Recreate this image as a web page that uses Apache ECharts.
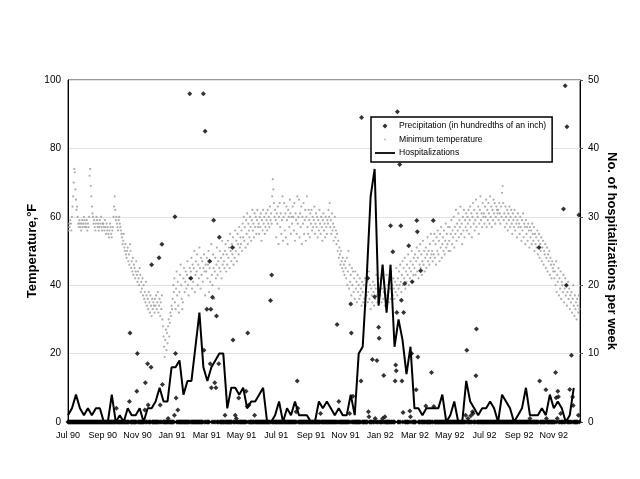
<!DOCTYPE html>
<html lang="en">
<head>
    <meta charset="UTF-8">
    <title>Temperature, precipitation and hospitalizations</title>
    <script src="https://cdn.jsdelivr.net/npm/echarts@6/dist/echarts.min.js"></script>
    <style>
        html, body { margin: 0; padding: 0; background: #fff; }
        #chart { width: 640px; height: 479px; }
    </style>
</head>
<body>
<div id="chart"></div>
<script>
    // day 0 = 1 Jul 1990, ticks every 61 days (two months)
    var monthLabels = ['Jul 90', 'Sep 90', 'Nov 90', 'Jan 91', 'Mar 91', 'May 91', 'Jul 91', 'Sep 91',
        'Nov 91', 'Jan 92', 'Mar 92', 'May 92', 'Jul 92', 'Sep 92', 'Nov 92'];

    // daily minimum temperature, one line per month (Jul 90 .. mid Dec 92)
    var minTemp = [
        57,56,58,57,59,58,56,60,63,66,70,74,73,68,65,62,63,60,58,57,59,58,57,56,58,59,57,58,60,59,57,
        58,57,59,56,58,57,60,72,74,69,66,63,61,60,58,59,57,56,58,60,59,57,58,56,57,59,58,60,57,56,58,
        58,57,56,59,57,55,58,56,57,55,54,56,58,57,55,54,56,57,60,63,66,62,59,60,58,57,56,59,60,58,
        57,56,55,54,52,53,55,51,50,52,49,48,50,51,47,49,46,52,50,45,47,44,48,43,46,45,42,44,47,43,41,
        44,42,40,45,43,38,41,39,42,37,40,36,38,35,41,37,34,36,33,38,35,32,37,34,31,36,33,35,34,32,
        36,34,37,33,35,38,32,34,36,31,35,33,37,30,28,25,22,19,24,27,21,26,23,28,30,25,29,32,31,34,33,
        36,40,38,42,35,33,39,44,37,41,34,32,38,43,46,40,36,33,35,42,45,38,41,44,39,43,47,40,37,42,45,
        42,44,48,39,46,41,45,50,38,43,47,44,49,40,46,42,51,45,39,48,43,47,41,45,49,44,37,46,
        44,48,42,46,50,38,45,41,47,52,43,40,49,45,36,44,48,42,46,51,43,47,39,45,50,44,48,42,53,46,49,
        47,45,50,52,44,49,46,53,48,51,45,55,50,47,52,49,54,46,51,48,56,50,53,47,55,52,49,57,51,54,
        52,56,50,58,54,60,53,57,51,59,55,61,52,58,56,54,60,57,53,59,62,56,58,54,61,57,60,55,59,62,57,
        58,55,60,57,61,53,59,56,62,58,60,55,57,61,59,56,62,58,60,57,63,59,61,58,66,71,68,64,60,62,
        59,54,61,58,63,52,60,64,57,61,55,59,66,53,60,64,56,61,54,63,59,52,62,60,57,65,61,55,60,58,63,
        60,56,64,53,61,59,55,66,58,60,65,54,61,57,63,52,60,58,64,55,59,62,53,60,66,57,55,62,59,54,61,
        58,62,56,60,57,59,63,55,58,61,57,60,54,59,56,62,58,55,60,57,53,59,61,56,58,54,60,57,55,59,
        58,62,60,64,57,59,55,61,56,58,53,57,60,54,56,52,55,50,53,48,51,49,46,50,47,45,48,44,46,43,47,
        45,42,48,40,44,50,39,46,41,43,37,45,40,44,38,42,36,44,39,41,35,43,38,40,36,42,37,39,34,41,
        38,35,40,36,42,34,39,37,41,35,38,44,36,40,33,39,37,35,41,38,34,40,36,39,43,37,35,38,42,36,39,
        37,40,35,39,42,36,38,41,34,39,37,43,36,40,38,35,41,39,36,44,38,40,37,42,39,36,41,38,45,40,37,
        42,39,44,40,46,41,38,43,47,40,45,42,48,39,44,41,46,43,49,40,45,42,47,44,50,41,46,43,48,
        45,49,43,47,51,44,48,42,50,46,52,45,49,43,47,53,46,50,44,48,51,45,49,54,47,50,46,52,48,55,49,
        50,47,53,49,55,48,52,46,54,50,56,49,53,47,55,51,57,48,52,54,50,56,49,53,58,51,55,52,57,50,
        53,57,50,55,59,52,56,54,60,51,57,55,62,53,58,56,61,54,59,57,63,55,58,52,60,56,62,54,59,57,61,
        56,60,58,62,55,59,63,57,61,54,60,64,58,62,56,59,65,57,61,60,63,55,58,62,66,59,61,57,64,60,
        61,58,63,60,65,57,62,59,64,61,58,66,60,63,57,62,59,65,61,64,58,60,63,62,61,62,59,64,61,58,63,
        60,67,69,64,59,61,57,63,60,58,62,56,61,59,63,57,60,62,58,55,61,59,57,62,56,60,58,54,59,61,57,
        58,55,60,57,53,59,56,61,54,58,57,52,59,55,57,53,58,56,51,57,54,56,52,58,55,53,57,50,55,52,
        54,51,56,49,53,55,48,52,50,54,47,51,53,46,50,49,52,45,48,51,44,49,47,50,43,48,46,42,47,45,44,
        46,42,44,40,47,38,43,41,45,37,42,39,44,36,41,40,38,43,35,39,42,37,40,34,38,41,36,39,33,37,
        35,38,32,36,40,34,31,37,33,35,30,36,34,32,37,33
    ];

    // days with rain: [day, hundredths of an inch]; every other day is 0
    var precipDays = [
        [85,4],[108,6],[109,26],[121,9],[122,20],[135,3.5],[136,11.5],[140,17],[141,5],[146,16],[147,46],
        [160,48],[162,5],[165,52],[166,11],[176,1],[187,2],[188,60],[189,20],[190,7],[193,3.5],
        [214,96],[216,42],[238,96],[239,21],[241,85],[244,33],[249,47],[250,17],[251,33],[252,10],
        [254,36.5],[256,59],[258,11.5],[260,10],[261,31],[265,17],[266,54],[276,2],[289,51],[290,24],
        [294,2],[296,1],[300,7],[313,9],[315,4.5],[316,26],[318,5],[328,2],[356,35.5],[358,43],
        [401,3],[403,12],[404,4],[444,2.5],[473,28.5],[476,6],[495,2.5],[497,34.5],[498,26],[501,7.5],
        [515,12],[516,89],[527,42],[528,3],[529,1.5],[535,18.3],[539,36.6],[540,1],[543,18],[546,27.7],
        [547,24.5],[553,1],[555,13.6],[557,1.5],[567,57.4],[571,49.8],[575,12],[576,16.7],[577,15],
        [578,32],[579,90.7],[583,75.3],[585,57.4],[586,35.6],[587,12],[589,2.8],[590,32],[592,40.5],
        [599,51.5],[601,3.2],[602,1.5],[604,20],[605,41],[612,9.4],[613,58.9],[614,55.6],[615,19],
        [620,44.2],[629,4.7],[639,14.5],[642,58.9],[643,4.5],[699,2],[701,21],[703,1],[708,1.8],
        [711,3],[712,2.5],[717,13.5],[718,27.2],[812,1],[828,51],[829,12],[840,9.4],[841,1],
        [857,14.5],[858,7.1],[860,1],[861,9],[862,7.4],[866,2.5],[871,62.3],[874,98.3],[876,40],
        [877,86.3],[882,9.5],[885,19.5],[887,7.3],[888,4.8],[897,2],[898,60.5]
    ];

    // weekly hospitalizations, week 0 starting 1 Jul 1990
    var hospitalizations = [
        1,2,4,2,1,2,1,2,2,0,0,4,0,1,0,2,1,1,2,0,2,2,3,5,3,3,8,8,9,4,
        6,6,11,16,8,6,8,9,10,10,2,5,5,4,5,2,3,3,4,5,0,0,1,3,0,2,1,3,1,1,
        1,0,0,3,2,3,2,1,2,1,1,4,1,10,11,21,33,37,17,23,16,23,11,15,12,7,11,2,2,1,
        2,2,2,2,4,0,1,3,0,0,6,3,2,1,2,2,3,2,0,4,3,2,0,1,2,5,1,1,1,2,
        1,4,2,3,2,0,1,5
    ];

    var DAYS = minTemp.length;
    var FONT = 'Liberation Sans, Arial, sans-serif';

    var tempData = minTemp.map(function (v, d) { return [d, v]; });
    var rain = {};
    precipDays.forEach(function (p) { rain[p[0]] = p[1]; });
    var precipData = [];
    for (var d = 0; d < DAYS; d++) {
        precipData.push([d, rain[d] || 0]);
    }
    var hospData = hospitalizations.map(function (v, w) { return [w * 7, v]; });

    var chart = echarts.init(document.getElementById('chart'));
    var option = {
        animation: false,
        backgroundColor: '#fff',
        textStyle: { fontFamily: FONT },
        grid: {
            left: 68, right: 60, top: 80, bottom: 57,
            show: true, borderColor: '#333', borderWidth: 1
        },
        legend: {
            orient: 'vertical',
            left: 371,
            top: 117,
            padding: [4, 6, 4, 4],
            itemWidth: 20,
            itemHeight: 10,
            itemGap: 3.5,
            borderColor: '#000',
            borderWidth: 1.5,
            backgroundColor: '#fff',
            textStyle: { fontFamily: FONT, fontSize: 8.6, color: '#000', padding: [0, 0, 0, -1] },
            data: [
                { name: 'Precipitation (in hundredths of an inch)', icon: 'path://M0,0M20,10M10,2.5L12.5,5L10,7.5L7.5,5Z' },
                { name: 'Minimum temperature', icon: 'path://M0,0M20,10M9.2,4.2H10.8V5.8H9.2Z' },
                { name: 'Hospitalizations', icon: 'path://M0,0M20,10M0,4.1H20V5.9H0Z' }
            ]
        },
        xAxis: {
            type: 'value',
            min: 0,
            max: DAYS,
            interval: 61,
            axisLine: { show: true, lineStyle: { color: '#000' } },
            axisTick: { show: false },
            splitLine: { show: false },
            axisLabel: {
                fontFamily: FONT, fontSize: 9, color: '#000', margin: 9,
                formatter: function (v) {
                    return v % 61 === 0 ? (monthLabels[v / 61] || '') : '';
                }
            }
        },
        yAxis: [{
            type: 'value',
            min: 0, max: 100, interval: 20,
            name: 'Temperature,°F',
            nameLocation: 'middle',
            nameRotate: 90,
            nameGap: 29,
            nameMoveOverlap: false,
            nameTextStyle: { fontFamily: FONT, fontSize: 13, fontWeight: 'bold', color: '#000' },
            axisLine: { show: true, lineStyle: { color: '#000' } },
            axisTick: { show: false },
            axisLabel: { fontFamily: FONT, fontSize: 10, color: '#000', margin: 7 },
            splitLine: { show: true, lineStyle: { color: '#e2e2e2', width: 1 } }
        }, {
            type: 'value',
            min: 0, max: 50, interval: 10,
            position: 'right',
            name: 'No. of hospitalizations per week',
            nameLocation: 'middle',
            nameRotate: -90,
            nameGap: 25,
            nameMoveOverlap: false,
            nameTextStyle: { fontFamily: FONT, fontSize: 13, fontWeight: 'bold', color: '#000' },
            axisLine: { show: true, lineStyle: { color: '#000' } },
            axisTick: { show: true, length: 3, lineStyle: { color: '#555' } },
            axisLabel: { fontFamily: FONT, fontSize: 10, color: '#000', margin: 8 },
            splitLine: { show: false }
        }],
        series: [{
            name: 'Minimum temperature',
            type: 'scatter',
            data: tempData,
            symbol: 'circle',
            symbolSize: 2.2,
            itemStyle: { color: '#999' },
            z: 2
        }, {
            name: 'Precipitation (in hundredths of an inch)',
            type: 'scatter',
            data: precipData,
            symbol: 'diamond',
            symbolSize: 5,
            itemStyle: { color: '#000' },
            z: 3
        }, {
            name: 'Hospitalizations',
            type: 'line',
            yAxisIndex: 1,
            data: hospData,
            symbol: 'none',
            lineStyle: { color: '#000', width: 2 },
            itemStyle: { color: '#000' },
            z: 4
        }]
    };
    chart.setOption(option);
</script>
</body>
</html>
